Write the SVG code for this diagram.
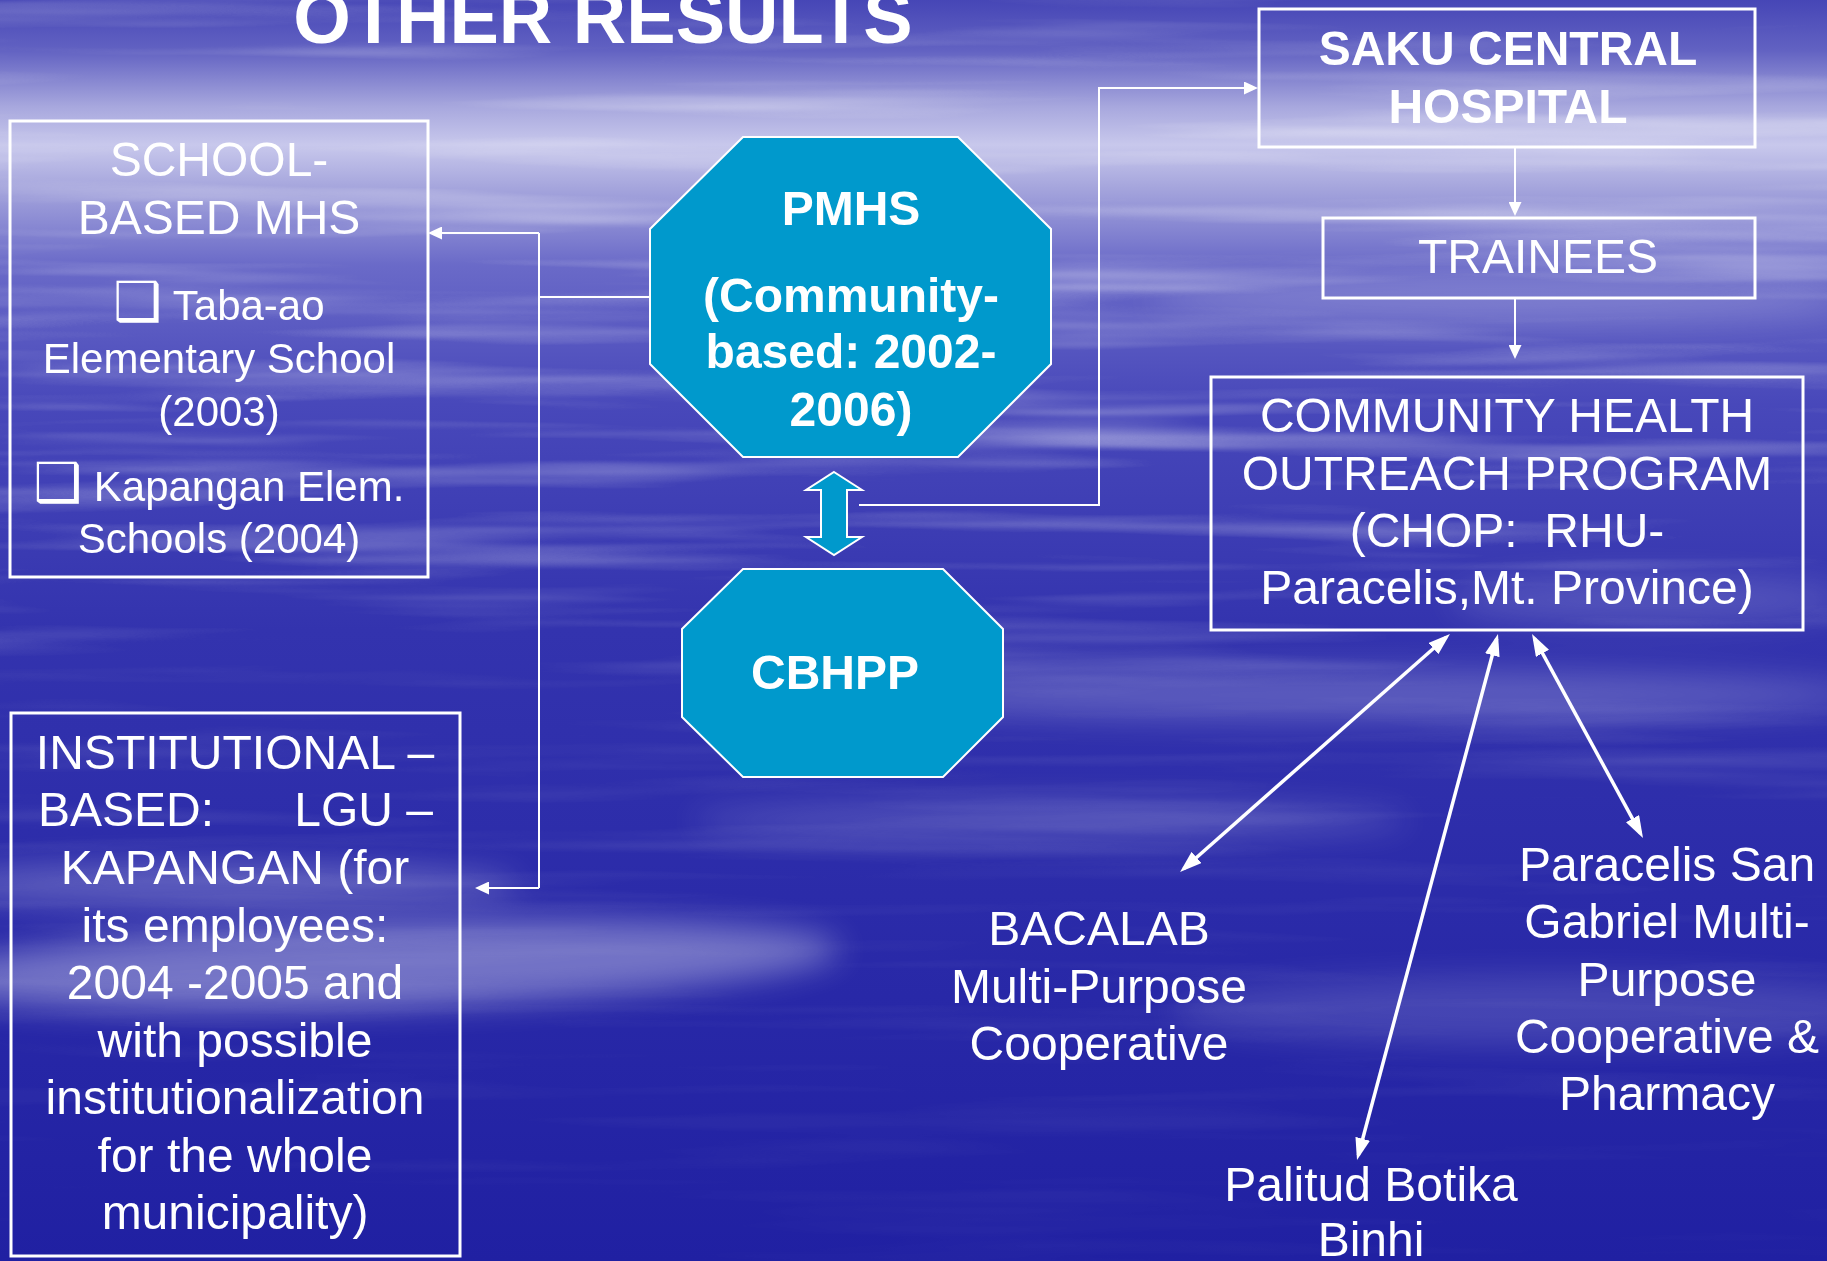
<svg xmlns="http://www.w3.org/2000/svg" width="1827" height="1261" viewBox="0 0 1827 1261">
<style>
.t{fill:#fff;font-family:"Liberation Sans",Arial,sans-serif;font-size:48px;text-anchor:middle}
.b{font-weight:bold}
.s{font-size:42px}
.box{fill:none;stroke:#fff;stroke-width:3}
.oct{fill:#0099cc;stroke:#fff;stroke-width:2}
.thin{fill:none;stroke:#fff;stroke-width:2}
.thick{fill:none;stroke:#fff;stroke-width:3.5}
.sym{font-family:"DejaVu Sans",sans-serif;font-size:54px;font-weight:bold}
</style>
<defs>
<linearGradient id="bg" x1="0" y1="0" x2="0" y2="1">
<stop offset="0" stop-color="#4646b6"/>
<stop offset="0.04" stop-color="#6262c2"/>
<stop offset="0.085" stop-color="#a8a8de"/>
<stop offset="0.115" stop-color="#c8c8ec"/>
<stop offset="0.15" stop-color="#a4a4dc"/>
<stop offset="0.21" stop-color="#6a6ac8"/>
<stop offset="0.32" stop-color="#4848ba"/>
<stop offset="0.5" stop-color="#3333ae"/>
<stop offset="1" stop-color="#2020a2"/>
</linearGradient>
<linearGradient id="fade" x1="0" y1="0" x2="0" y2="1">
<stop offset="0" stop-color="#fff" stop-opacity="0.6"/>
<stop offset="0.1" stop-color="#fff" stop-opacity="1"/>
<stop offset="0.4" stop-color="#fff" stop-opacity="1"/>
<stop offset="0.55" stop-color="#fff" stop-opacity="0.35"/>
<stop offset="1" stop-color="#fff" stop-opacity="0.1"/>
</linearGradient>
<mask id="m" maskUnits="userSpaceOnUse" x="0" y="0" width="1827" height="1261"><rect width="1827" height="1261" fill="url(#fade)"/></mask>
<filter id="blur" x="-50%" y="-50%" width="200%" height="200%"><feGaussianBlur stdDeviation="16"/></filter>
<filter id="streaks" x="0" y="0" width="100%" height="100%">
<feTurbulence type="fractalNoise" baseFrequency="0.0015 0.035" numOctaves="3" seed="4"/>
<feColorMatrix type="matrix" values="0 0 0 0 1  0 0 0 0 1  0 0 0 0 1  2.2 0 0 0 -1.05"/>
</filter>
<marker id="ah" markerUnits="userSpaceOnUse" markerWidth="14" markerHeight="13" refX="12" refY="6.5" orient="auto"><path d="M0,0 L14,6.5 L0,13 z" fill="#fff"/></marker>
<marker id="ahk" markerUnits="userSpaceOnUse" markerWidth="22" markerHeight="15" refX="17" refY="7.5" orient="auto-start-reverse"><path d="M0,0 L22,7.5 L0,15 z" fill="#fff"/></marker>
</defs>
<rect width="1827" height="1261" fill="url(#bg)"/>
<g filter="url(#blur)" fill="#fff">
<ellipse cx="380" cy="965" rx="460" ry="42" opacity="0.35" transform="rotate(-2 380 965)"/>
<ellipse cx="220" cy="885" rx="300" ry="22" opacity="0.25"/>
<ellipse cx="1350" cy="695" rx="520" ry="24" opacity="0.22"/>
<ellipse cx="1050" cy="820" rx="360" ry="18" opacity="0.18"/>
<ellipse cx="1550" cy="1010" rx="380" ry="35" opacity="0.14"/>
<ellipse cx="1650" cy="600" rx="200" ry="25" opacity="0.15"/>
<ellipse cx="1500" cy="300" rx="350" ry="25" opacity="0.18"/>
</g>
<rect width="1827" height="1261" filter="url(#streaks)" opacity="0.38" mask="url(#m)"/>

<g id="title"><text class="t b" x="603" y="43" style="font-size:74px">OTHER RESULTS</text></g>

<g id="connectors">
<path class="thin" d="M650,297 H539 M539,233 V888"/>
<path class="thin" d="M539,233 H430" marker-end="url(#ah)"/>
<path class="thin" d="M539,888 H477" marker-end="url(#ah)"/>
<path class="thin" d="M859,505 H1099 V88 H1256" marker-end="url(#ah)"/>
<path class="thin" d="M1515,148 V214" marker-end="url(#ah)"/>
<path class="thin" d="M1515,298 V357" marker-end="url(#ah)"/>
<polygon class="oct" points="834,472 862,490 847,490 847,537 862,537 834,555 806,537 821,537 821,490 806,490"/>
<path class="thick" d="M1446.2,637.3 L1183.8,868.7" marker-start="url(#ahk)" marker-end="url(#ahk)"/>
<path class="thick" d="M1496.7,638.8 L1358.3,1155.2" marker-start="url(#ahk)" marker-end="url(#ahk)"/>
<path class="thick" d="M1534.4,638.4 L1640.6,833.6" marker-start="url(#ahk)" marker-end="url(#ahk)"/>
</g>

<g id="school-based-mhs">
<rect class="box" x="10" y="121" width="418" height="456"/>
<text class="t" x="219" y="176">SCHOOL-</text>
<text class="t" x="219" y="234">BASED MHS</text>
<text class="t s" x="219" y="320"><tspan class="sym">❑</tspan> Taba-ao</text>
<text class="t s" x="219" y="373">Elementary School</text>
<text class="t s" x="219" y="426">(2003)</text>
<text class="t s" x="219" y="501"><tspan class="sym">❑</tspan> Kapangan Elem.</text>
<text class="t s" x="219" y="553">Schools (2004)</text>
</g>

<g id="institutional-based">
<rect class="box" x="11" y="713" width="449" height="543"/>
<text class="t" x="235" y="769">INSTITUTIONAL –</text>
<text class="t"><tspan x="38" y="826" style="text-anchor:start">BASED:</tspan><tspan x="433" y="826" style="text-anchor:end">LGU –</tspan></text>
<text class="t" x="235" y="884">KAPANGAN (for</text>
<text class="t" x="235" y="942">its employees:</text>
<text class="t" x="235" y="999">2004 -2005 and</text>
<text class="t" x="235" y="1057">with possible</text>
<text class="t" x="235" y="1114">institutionalization</text>
<text class="t" x="235" y="1172">for the whole</text>
<text class="t" x="235" y="1229">municipality)</text>
</g>

<g id="pmhs">
<polygon class="oct" points="743,137 958,137 1051,229 1051,364 958,457 743,457 650,364 650,229"/>
<text class="t b" x="851" y="225">PMHS</text>
<text class="t b" x="851" y="312">(Community-</text>
<text class="t b" x="851" y="368">based: 2002-</text>
<text class="t b" x="851" y="426">2006)</text>
</g>

<g id="cbhpp">
<polygon class="oct" points="743,569 943,569 1003,629 1003,717 943,777 743,777 682,717 682,629"/>
<text class="t b" x="835" y="689">CBHPP</text>
</g>

<g id="saku-central-hospital">
<rect class="box" x="1259" y="9" width="496" height="138"/>
<text class="t b" x="1508" y="65">SAKU CENTRAL</text>
<text class="t b" x="1508" y="123">HOSPITAL</text>
</g>

<g id="trainees">
<rect class="box" x="1323" y="218" width="432" height="80"/>
<text class="t" x="1538" y="273">TRAINEES</text>
</g>

<g id="chop">
<rect class="box" x="1211" y="377" width="592" height="253"/>
<text class="t" x="1507" y="432">COMMUNITY HEALTH</text>
<text class="t" x="1507" y="490">OUTREACH PROGRAM</text>
<text class="t" x="1507" y="547" xml:space="preserve">(CHOP:  RHU-</text>
<text class="t" x="1507" y="604">Paracelis,Mt. Province)</text>
</g>

<g id="bacalab">
<text class="t" x="1099" y="945">BACALAB</text>
<text class="t" x="1099" y="1003">Multi-Purpose</text>
<text class="t" x="1099" y="1060">Cooperative</text>
</g>

<g id="palitud">
<text class="t" x="1371" y="1201">Palitud Botika</text>
<text class="t" x="1371" y="1256">Binhi</text>
</g>

<g id="paracelis-san-gabriel">
<text class="t" x="1667" y="881">Paracelis San</text>
<text class="t" x="1667" y="938">Gabriel Multi-</text>
<text class="t" x="1667" y="996">Purpose</text>
<text class="t" x="1667" y="1053">Cooperative &amp;</text>
<text class="t" x="1667" y="1110">Pharmacy</text>
</g>
</svg>
